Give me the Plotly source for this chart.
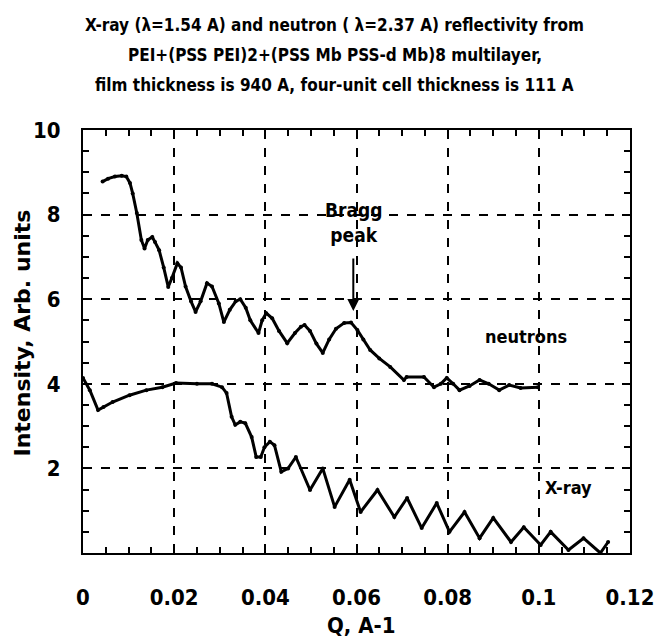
import plotly.graph_objects as go

# Neutron reflectivity (Q in 1/A, intensity arb. units)
neutron_q = [0.0043, 0.0055, 0.007, 0.0085, 0.0095, 0.0103, 0.0109, 0.0118, 0.0128, 0.0135,
             0.0142, 0.0152, 0.0158, 0.0167, 0.0177, 0.0187, 0.0195, 0.0207, 0.0215, 0.0225,
             0.0237, 0.0247, 0.0258, 0.0272, 0.0283, 0.0298, 0.0309, 0.0322, 0.0335, 0.0345,
             0.0357, 0.0367, 0.0385, 0.0393, 0.0402, 0.0415, 0.043, 0.0448, 0.0465, 0.0478,
             0.0486, 0.0498, 0.0512, 0.0526, 0.054, 0.0555, 0.0573, 0.0588, 0.0602, 0.0615,
             0.063, 0.065, 0.0674, 0.0704, 0.071, 0.0748, 0.077, 0.0785, 0.0798, 0.0812,
             0.0826, 0.0848, 0.087, 0.089, 0.0913, 0.0935, 0.096, 0.0998]
neutron_i = [8.78, 8.85, 8.9, 8.92, 8.9, 8.75, 8.5, 8.04, 7.4, 7.2,
             7.4, 7.47, 7.35, 7.16, 6.75, 6.29, 6.5, 6.85, 6.75, 6.3,
             5.95, 5.7, 5.95, 6.38, 6.3, 5.9, 5.46, 5.75, 5.95, 6.0,
             5.8, 5.5, 5.2, 5.5, 5.67, 5.55, 5.25, 4.96, 5.2, 5.35,
             5.39, 5.25, 4.95, 4.73, 5.05, 5.3, 5.44, 5.45, 5.27, 5.05,
             4.8, 4.6, 4.4, 4.09, 4.16, 4.16, 3.92, 4.0, 4.14, 4.0,
             3.85, 3.95, 4.09, 4.0, 3.85, 3.97, 3.9, 3.92]

# X-ray reflectivity
xray_q = [0.0, 0.0015, 0.0033, 0.0045, 0.0065, 0.0102, 0.0139, 0.0174, 0.0204, 0.025,
          0.0283, 0.0305, 0.0315, 0.0326, 0.0334, 0.0345, 0.0356, 0.037, 0.038, 0.039,
          0.0398, 0.041, 0.042, 0.0435, 0.045, 0.0467, 0.0498, 0.0526, 0.0552, 0.0585,
          0.0609, 0.0646, 0.0683, 0.0711, 0.0743, 0.0776, 0.0804, 0.0837, 0.087, 0.09,
          0.0939, 0.0967, 0.1004, 0.1026, 0.1065, 0.1098, 0.1135, 0.1152]
xray_i = [4.14, 3.85, 3.38, 3.45, 3.57, 3.73, 3.85, 3.92, 4.02, 4.0,
          4.0, 3.92, 3.78, 3.22, 3.03, 3.1, 3.07, 2.74, 2.27, 2.27,
          2.5, 2.63, 2.55, 1.92, 2.0, 2.27, 1.49, 2.0, 1.09, 1.73,
          0.97, 1.49, 0.85, 1.3, 0.59, 1.18, 0.5, 0.97, 0.35, 0.83,
          0.26, 0.61, 0.19, 0.5, 0.07, 0.35, 0.0, 0.26]

x_ticks = [0, 0.02, 0.04, 0.06, 0.08, 0.1, 0.12]
x_ticktext = ["0", "0.02", "0.04", "0.06", "0.08", "0.1", "0.12"]
y_ticks = [2, 4, 6, 8, 10]
y_ticktext = ["2", "4", "6", "8", "10"]

bragg_q = 0.0593
title_lines = [
    "X-ray (λ=1.54 A) and neutron ( λ=2.37 A) reflectivity from",
    "PEI+(PSS PEI)2+(PSS Mb PSS-d Mb)8 multilayer,",
    "film thickness is 940 A, four-unit cell thickness is 111 A",
]

FONT = "Liberation Sans Narrow, DejaVu Sans Condensed, Arial Narrow, Liberation Sans, Arial"

fig = go.Figure()
for q, i in [(neutron_q, neutron_i), (xray_q, xray_i)]:
    fig.add_trace(go.Scatter(x=q, y=i, mode="lines+markers",
                             line=dict(color="black", width=3),
                             marker=dict(color="black", size=4),
                             showlegend=False, hoverinfo="skip"))

axis_common = dict(
    showline=True, linecolor="black", linewidth=2, mirror="allticks",
    ticks="inside", ticklen=8, tickwidth=2, tickcolor="black",
    showgrid=True, gridcolor="black", griddash="dash", gridwidth=2,
    zeroline=False,
    tickfont=dict(family=FONT, size=22, color="black", weight="bold"),
)

fig.update_xaxes(range=[0, 0.12], tickvals=x_ticks, ticktext=x_ticktext,
                 minor=dict(dtick=0.005, ticks="inside", ticklen=6, tickwidth=2,
                            tickcolor="black", showgrid=False),
                 ticklabelstandoff=24, **axis_common)
fig.update_yaxes(range=[0, 10], tickvals=y_ticks, ticktext=y_ticktext,
                 minor=dict(dtick=0.5, ticks="inside", ticklen=6, tickwidth=2,
                            tickcolor="black", showgrid=False),
                 ticklabelstandoff=16, **axis_common)

annotations = []
for k, line in enumerate(title_lines):
    annotations.append(dict(text=line, xref="paper", yref="paper", x=0.46, y=1.0,
                            yshift=105 - 30 * k, showarrow=False, xanchor="center",
                            yanchor="middle",
                            font=dict(family=FONT, size=17, color="black", weight="bold")))
annotations.append(dict(text="Intensity, Arb. units", xref="paper", yref="paper",
                        x=0, xshift=-61, xanchor="center", y=0.5, yshift=8,
                        textangle=-90, showarrow=False,
                        font=dict(family="DejaVu Sans, Liberation Sans, Arial", size=22,
                                  color="black", weight="bold")))
annotations.append(dict(text="Q, A-1", xref="paper", yref="paper", x=0.51, y=0,
                        yanchor="middle", yshift=-72, showarrow=False,
                        font=dict(family=FONT, size=22, color="black", weight="bold")))
annotations.append(dict(text="Bragg<br>peak", x=bragg_q, y=7.82, showarrow=False,
                        font=dict(family=FONT, size=19, color="black", weight="bold")))
annotations.append(dict(x=bragg_q, y=5.72, ax=bragg_q, ay=7.0, axref="x", ayref="y",
                        text="", showarrow=True, arrowhead=2, arrowsize=1.2,
                        arrowwidth=2, arrowcolor="black"))
annotations.append(dict(text="neutrons", x=0.0972, y=5.13, showarrow=False,
                        font=dict(family=FONT, size=18, color="black", weight="bold")))
annotations.append(dict(text="X-ray", x=0.1065, y=1.56, showarrow=False,
                        font=dict(family=FONT, size=18, color="black", weight="bold")))

fig.update_layout(
    width=666, height=639,
    margin=dict(l=83, r=29, t=130, b=86),
    paper_bgcolor="white", plot_bgcolor="white",
    annotations=annotations,
)

fig.write_html("out.html", config={"displayModeBar": False},
               post_script="document.body.style.margin='0';")
